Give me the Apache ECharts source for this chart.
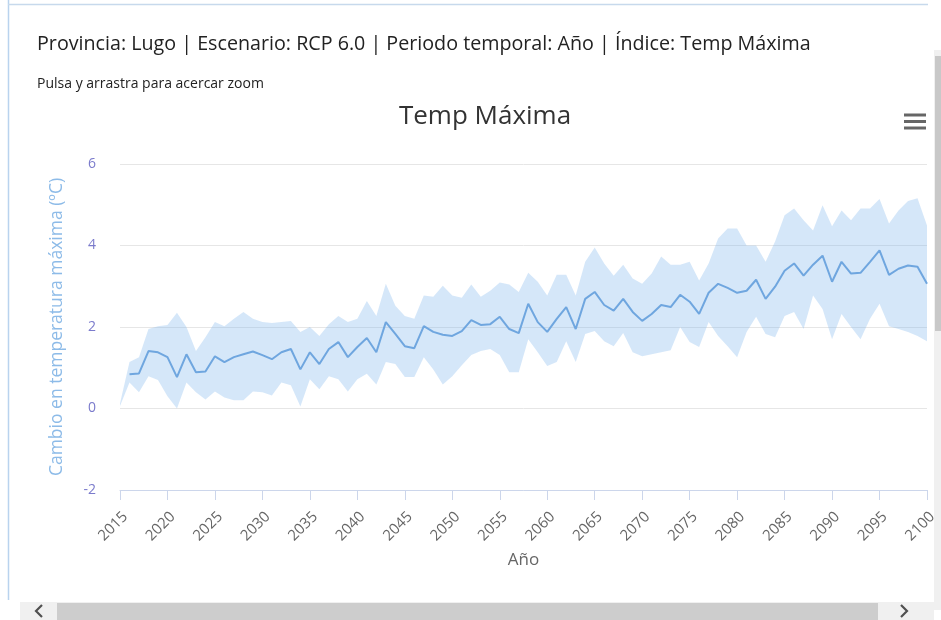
<!DOCTYPE html>
<html><head><meta charset="utf-8">
<script src="https://cdn.jsdelivr.net/npm/echarts@6/dist/echarts.min.js"></script>
<style>html,body{margin:0;padding:0;background:#fff}#c{width:941px;height:620px}</style>
</head><body><div id="c"></div>
<script>
const years = [];
for (let y = 2015; y <= 2100; y++) years.push(String(y));
const meanValues = [null,0.84,0.86,1.41,1.38,1.26,0.77,1.33,0.89,0.91,
1.28,1.14,1.26,1.33,1.40,1.31,1.21,1.38,1.46,0.96,
1.38,1.09,1.46,1.63,1.26,1.51,1.73,1.38,2.12,1.83,
1.53,1.48,2.02,1.88,1.81,1.78,1.90,2.17,2.05,2.07,
2.25,1.95,1.85,2.57,2.12,1.88,2.20,2.49,1.95,2.69,
2.86,2.54,2.40,2.69,2.37,2.15,2.32,2.54,2.49,2.79,
2.62,2.32,2.84,3.06,2.96,2.84,2.89,3.16,2.69,2.99,
3.38,3.56,3.26,3.53,3.75,3.11,3.60,3.31,3.33,3.60,
3.88,3.28,3.43,3.51,3.48,3.06];
const lowerValues = [0.06,0.64,0.40,0.79,0.70,0.30,-0.35,0.64,0.40,0.22,
0.42,0.27,0.20,0.20,0.42,0.40,0.32,0.64,0.57,0.05,
0.72,0.47,0.79,0.72,0.42,0.72,0.85,0.59,1.14,1.09,
0.77,0.77,1.26,0.96,0.59,0.79,1.06,1.31,1.41,1.46,
1.31,0.89,0.89,1.70,1.38,1.04,1.14,1.65,1.14,1.83,
1.90,1.65,1.53,1.85,1.38,1.28,1.33,1.38,1.43,2.00,
1.63,1.51,2.12,1.78,1.53,1.26,1.88,2.25,1.83,1.75,
2.27,2.37,1.95,2.77,2.44,1.70,2.32,2.00,1.70,2.20,
2.57,2.02,1.95,1.88,1.78,1.65];
const upperValues = [0.12,1.14,1.26,1.95,2.02,2.05,2.00,2.00,1.41,1.75,
2.12,2.02,2.20,2.37,2.20,2.12,2.10,2.12,2.15,1.88,
2.00,1.78,2.07,2.27,2.12,2.20,2.64,2.27,3.06,2.52,
2.27,2.20,2.77,2.74,3.01,2.77,2.72,3.04,2.74,2.89,
3.09,3.04,2.86,3.33,3.11,2.77,3.28,3.28,2.77,3.60,
3.95,3.56,3.26,3.53,3.19,3.06,3.31,3.73,3.53,3.53,
3.60,3.14,3.56,4.17,4.42,4.42,4.00,4.00,3.60,4.10,
4.74,4.91,4.62,4.37,4.99,4.47,4.86,4.62,4.91,4.91,
5.14,4.54,4.86,5.09,5.16,4.49];
const yTicks = [-2, 0, 2, 4, 6];

const bandDiff = upperValues.map((u, i) => +(u - lowerValues[i]).toFixed(3));
const FONT = 'Open Sans';
const chart = echarts.init(document.getElementById('c'), null, {renderer: 'canvas'});
chart.setOption({
  animation: false,
  backgroundColor: '#ffffff',
  textStyle: {fontFamily: FONT},
  title: [
    {text: 'Provincia: Lugo | Escenario: RCP 6.0 | Periodo temporal: Año | Índice: Temp Máxima',
     left: 32, top: 29, textStyle: {fontFamily: FONT, fontSize: 19.7, fontWeight: 'normal', color: '#222'}},
    {text: 'Pulsa y arrastra para acercar zoom',
     left: 32, top: 72, textStyle: {fontFamily: FONT, fontSize: 14, fontWeight: 'normal', color: '#222'}},
    {text: 'Temp Máxima', left: 480, textAlign: 'center', top: 99,
     textStyle: {fontFamily: FONT, fontSize: 26, fontWeight: 'normal', color: '#333'}}
  ],
  grid: {left: 120, right: 14, top: 164, bottom: 130, containLabel: false},
  xAxis: {
    type: 'category', data: years, boundaryGap: false,
    name: 'Año', nameLocation: 'middle', nameGap: 62,
    nameTextStyle: {fontFamily: FONT, fontSize: 17, color: '#666'},
    axisLine: {onZero: false, lineStyle: {color: '#ccd6eb', width: 1}},
    axisTick: {show: true, interval: 4, length: 10, lineStyle: {color: '#ccd6eb'}},
    axisLabel: {interval: 4, rotate: 45, fontFamily: FONT, fontSize: 15, color: '#666', margin: 19, verticalAlign: 'top'},
    splitLine: {show: false}
  },
  yAxis: {
    type: 'value', min: yTicks[0], max: yTicks[yTicks.length - 1], interval: 2,
    name: 'Cambio en temperatura máxima (ºC)', nameLocation: 'middle', nameGap: 54,
    nameTextStyle: {fontFamily: FONT, fontSize: 17.5, color: '#8dbbe8'},
    axisLine: {show: false}, axisTick: {show: false},
    axisLabel: {fontFamily: FONT, fontSize: 14, color: '#7b7bcc', margin: 24},
    splitLine: {lineStyle: {color: '#e6e6e6', width: 1}}
  },
  series: [
    {type: 'line', data: lowerValues, stack: 'band', symbol: 'none', silent: true,
     lineStyle: {opacity: 0}, z: 1},
    {type: 'line', data: bandDiff, stack: 'band', symbol: 'none', silent: true,
     lineStyle: {opacity: 0}, areaStyle: {color: 'rgba(124,181,236,0.32)', opacity: 1}, z: 1},
    {type: 'line', data: meanValues, symbol: 'none', z: 3,
     lineStyle: {color: '#6fa6df', width: 2}}
  ],
  graphic: [
    {type: 'line', shape: {x1: 8.5, y1: 0, x2: 8.5, y2: 600}, style: {stroke: '#b9d3ee', lineWidth: 1.5}},
    {type: 'line', shape: {x1: 8, y1: 4.5, x2: 928, y2: 4.5}, style: {stroke: '#c7d9ec', lineWidth: 1.5}},
    {type: 'rect', shape: {x: 934, y: 50, width: 7, height: 560}, style: {fill: '#f0f0f0'}},
    {type: 'rect', shape: {x: 935, y: 56, width: 6, height: 275}, style: {fill: '#c8c8c8'}},
    {type: 'rect', shape: {x: 20, y: 602, width: 914, height: 18}, style: {fill: '#f0f0f0'}},
    {type: 'rect', shape: {x: 57, y: 603, width: 821, height: 17}, style: {fill: '#cdcdcd'}},
    {type: 'polyline', shape: {points: [[42, 605], [36, 611], [42, 617]]}, style: {stroke: '#505050', lineWidth: 2.2, fill: null}},
    {type: 'polyline', shape: {points: [[901, 605], [907, 611], [901, 617]]}, style: {stroke: '#505050', lineWidth: 2.2, fill: null}},
    {type: 'line', shape: {x1: 904, y1: 115, x2: 926, y2: 115}, style: {stroke: '#666', lineWidth: 3}},
    {type: 'line', shape: {x1: 904, y1: 121.5, x2: 926, y2: 121.5}, style: {stroke: '#666', lineWidth: 3}},
    {type: 'line', shape: {x1: 904, y1: 128, x2: 926, y2: 128}, style: {stroke: '#666', lineWidth: 3}}
  ]
});
</script></body></html>
